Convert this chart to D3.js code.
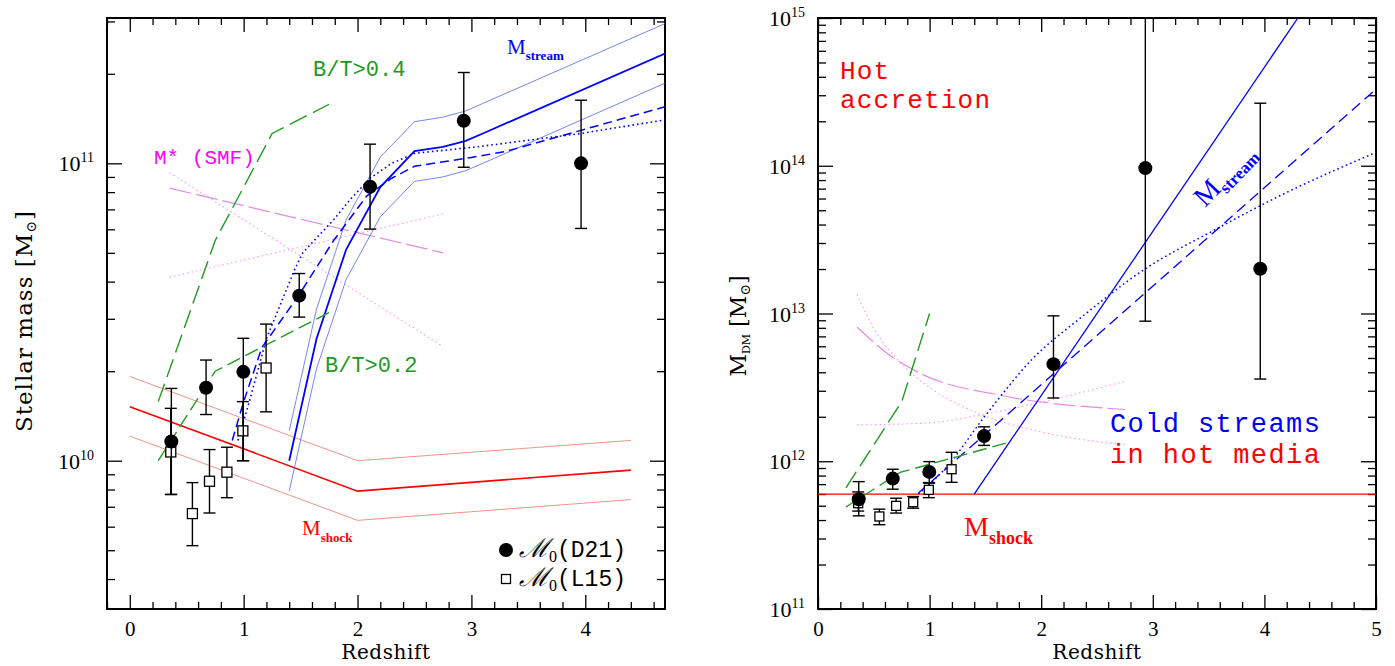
<!DOCTYPE html>
<html>
<head>
<meta charset="utf-8">
<script src="https://cdn.jsdelivr.net/npm/d3@7"></script>
<style>
  body { margin: 0; background: #fff; }
  svg { display: block; }
</style>
</head>
<body>
<div id="chart"></div>
<script>
// ---------- data ----------
// redshifts of the two galaxy samples
const zD21 = [0.365, 0.67, 0.997, 1.488, 2.11, 2.933, 3.963];
const zL15 = [0.36, 0.55, 0.70, 0.853, 0.993, 1.197];

// left panel: stellar mass
const smD21   = [1.16e10, 1.76e10, 1.99e10, 3.59e10, 8.34e10, 1.39e11, 1.0e11];
const smD21Lo = [7.7e9, 1.43e10, 1.0e10, 3.04e10, 6.01e10, 9.7e10, 6.04e10];
const smD21Hi = [1.75e10, 2.18e10, 2.58e10, 4.26e10, 1.16e11, 2.02e11, 1.63e11];
const smL15   = [1.07e10, 6.64e9, 8.53e9, 9.15e9, 1.26e10, 2.05e10];
const smL15Lo = [7.7e9, 5.18e9, 6.67e9, 7.51e9, 1.0e10, 1.46e10];
const smL15Hi = [1.5e10, 8.44e9, 1.09e10, 1.11e10, 1.58e10, 2.88e10];

const zShockL  = [0, 2, 4.4];
const shockMid = [1.52e10, 7.9e9, 9.3e9];
const shockHi  = [1.92e10, 1.0e10, 1.17e10];
const shockLo  = [1.21e10, 6.3e9, 7.4e9];

const zStreamL  = [1.40, 1.64, 1.90, 2.20, 2.50, 2.75, 2.95, 3.10, 4.70];
const streamMid = [1.0e10, 2.57e10, 5.13e10, 8.32e10, 1.10e11, 1.135e11, 1.19e11, 1.26e11, 2.34e11];
const streamHi  = [1.26e10, 3.24e10, 6.46e10, 1.05e11, 1.38e11, 1.43e11, 1.50e11, 1.59e11, 2.95e11];
const streamLo  = [7.9e9, 2.04e10, 4.07e10, 6.61e10, 8.7e10, 9.0e10, 9.45e10, 1.0e11, 1.86e11];
const zStreamDashL = [0.90, 1.00, 1.16, 1.49, 1.79, 2.08, 2.30, 2.50, 3.00, 3.30, 4.70];
const streamDashL  = [1.17e10, 1.58e10, 2.40e10, 3.63e10, 5.50e10, 7.76e10, 8.91e10, 9.77e10, 1.047e11, 1.096e11, 1.55e11];
const zStreamDotL  = [0.95, 1.05, 1.20, 1.445, 1.52, 1.79, 1.94, 2.11, 2.30, 2.50, 3.08, 3.96, 4.70];
const streamDotL   = [1.17e10, 1.58e10, 2.57e10, 4.37e10, 5.01e10, 6.46e10, 7.59e10, 8.91e10, 1.0e11, 1.08e11, 1.14e11, 1.26e11, 1.40e11];

const zBT04 = [0.25, 0.75, 1.25, 1.75];
const bt04  = [1.58e10, 5.5e10, 1.26e11, 1.58e11];
const zBT02 = [0.25, 0.75, 1.75];
const bt02  = [1.0e10, 2.0e10, 3.15e10];

const zSmf    = [0.35, 2.75];
const smfStar = [8.25e10, 5.0e10];
const smfDotA = [9.3e10, 2.42e10];
const smfDotB = [4.14e10, 6.76e10];

// right panel: dark matter halo mass
const mdmD21   = [5.53e11, 7.63e11, 8.47e11, 1.48e12, 4.54e12, 9.64e13, 2.01e13];
const mdmD21Lo = [4.27e11, 6.47e11, 7.1e11, 1.28e12, 2.68e12, 8.87e12, 3.6e12];
const mdmD21Hi = [7.28e11, 8.83e11, 9.94e11, 1.71e12, 9.64e12, 2e15, 2.65e14];
const mdmL15   = [5.2e11, 4.23e11, 4.99e11, 5.28e11, 6.4e11, 8.83e11];
const mdmL15Lo = [4.6e11, 3.72e11, 4.46e11, 4.81e11, 5.67e11, 7.2e11];
const mdmL15Hi = [6.2e11, 4.74e11, 5.62e11, 5.77e11, 7.17e11, 1.15e12];

const zShockR = [0, 5];
const shockR  = [6e11, 6e11];
const zStreamR = [1.4, 4.3];
const streamR  = [6e11, 1.0e15];
const zStreamDashR = [0.9, 5.0];
const streamDashR  = [6.1e11, 3.3e14];
const zStreamDotR  = [0.9, 1.15, 1.5, 1.93, 2.35, 2.93, 3.54, 4.2, 5.0];
const streamDotR   = [6.0e11, 9.1e11, 2.04e12, 5.0e12, 9.3e12, 2.0e13, 3.63e13, 6.6e13, 1.23e14];

const zBT04R = [0.25, 0.75, 1.0];
const bt04R  = [6.6e11, 2.53e12, 1.0e13];
const zBT02R = [0.25, 0.735, 1.705];
const bt02R  = [4.9e11, 8.4e11, 1.34e12];

const zSmfR    = [0.35, 0.645, 0.96, 1.63, 2.75];
const smfStarR = [8.1e12, 5.2e12, 3.8e12, 2.8e12, 2.24e12];
const zSmfDotAR = [0.35, 0.5, 0.7, 1.0, 1.45, 2.0, 2.75];
const smfDotAR  = [1.35e13, 7.9e12, 5.0e12, 3.16e12, 2.09e12, 1.58e12, 1.29e12];
const zSmfDotBR = [0.35, 1.0, 1.5, 2.0, 2.75];
const smfDotBR  = [1.76e12, 1.82e12, 2.09e12, 2.51e12, 3.47e12];

// ---------- drawing ----------
const W = 1395, H = 666;
const TOP = 18, BOTTOM = 609;
const MONO = "'Liberation Mono', monospace";
const SERIF = "'DejaVu Serif', serif";
const LSERIF = "'Liberation Serif', serif";

const svg = d3.select("#chart").append("svg").attr("width", W).attr("height", H);

function panel(id, left, right, xDomain, yDomain, xMax) {
    const x = d3.scaleLinear().domain(xDomain).range([left, right]);
    const y = d3.scaleLog().domain(yDomain).range([BOTTOM, TOP]);
    const g = svg.append("g");

    g.append("clipPath").attr("id", id).append("rect")
        .attr("x", left).attr("y", TOP).attr("width", right - left).attr("height", BOTTOM - TOP);

    // ticks
    const steps = d3.range(Math.round(xDomain[0] * 5), Math.round(xDomain[1] * 5) + 1).map(d => d / 5)
        .filter(d => d >= xDomain[0] - 1e-6 && d <= xDomain[1] + 1e-6);
    const xMajor = steps.filter(d => Math.abs(d - Math.round(d)) < 1e-6 && d >= 0 && d <= xMax);
    const xMinor = steps.filter(d => Math.abs(d - Math.round(d)) > 1e-6);
    const lo = Math.floor(Math.log10(yDomain[0])), hi = Math.ceil(Math.log10(yDomain[1]));
    const yMajor = d3.range(lo, hi + 1).map(k => Math.pow(10, k)).filter(v => v >= yDomain[0] * 0.999 && v <= yDomain[1] * 1.001);
    const yMinor = [];
    d3.range(lo, hi + 1).forEach(k => {
        for (let m = 2; m <= 9; m++) {
            const v = m * Math.pow(10, k);
            if (v > yDomain[0] && v < yDomain[1]) yMinor.push(v);
        }
    });

    const clean = s => s.call(a => a.select(".domain").remove())
        .call(a => a.selectAll("line").attr("stroke", "#000").attr("stroke-width", 1.3));

    g.append("g").attr("transform", `translate(0,${BOTTOM})`)
        .call(d3.axisBottom(x).tickValues(xMajor).tickSizeInner(-14).tickSizeOuter(0).tickPadding(12).tickFormat(d3.format("d")))
        .call(clean)
        .call(a => a.selectAll("text").attr("font-family", LSERIF).attr("font-size", 21).attr("fill", "#000"));
    g.append("g").attr("transform", `translate(0,${BOTTOM})`)
        .call(d3.axisBottom(x).tickValues(xMinor).tickSizeInner(-7).tickSizeOuter(0).tickFormat("")).call(clean);
    g.append("g").attr("transform", `translate(0,${TOP})`)
        .call(d3.axisTop(x).tickValues(xMajor).tickSizeInner(-14).tickSizeOuter(0).tickFormat("")).call(clean);
    g.append("g").attr("transform", `translate(0,${TOP})`)
        .call(d3.axisTop(x).tickValues(xMinor).tickSizeInner(-7).tickSizeOuter(0).tickFormat("")).call(clean);

    g.append("g").attr("transform", `translate(${left},0)`)
        .call(d3.axisLeft(y).tickValues(yMajor).tickSizeInner(-15).tickSizeOuter(0).tickFormat("")).call(clean);
    g.append("g").attr("transform", `translate(${left},0)`)
        .call(d3.axisLeft(y).tickValues(yMinor).tickSizeInner(-8).tickSizeOuter(0).tickFormat("")).call(clean);
    g.append("g").attr("transform", `translate(${right},0)`)
        .call(d3.axisRight(y).tickValues(yMajor).tickSizeInner(-15).tickSizeOuter(0).tickFormat("")).call(clean);
    g.append("g").attr("transform", `translate(${right},0)`)
        .call(d3.axisRight(y).tickValues(yMinor).tickSizeInner(-8).tickSizeOuter(0).tickFormat("")).call(clean);

    // y tick labels 10^k
    yMajor.forEach(v => {
        const t = g.append("text").attr("x", left - 13).attr("y", y(v) + 8)
            .attr("text-anchor", "end").attr("font-family", LSERIF).attr("font-size", 22);
        t.append("tspan").text("10");
        t.append("tspan").attr("dy", -9).attr("font-size", 14).text(Math.round(Math.log10(v)));
    });

    // frame
    g.append("rect").attr("x", left).attr("y", TOP).attr("width", right - left).attr("height", BOTTOM - TOP)
        .attr("fill", "none").attr("stroke", "#000").attr("stroke-width", 2);

    const plot = g.append("g").attr("clip-path", `url(#${id})`);
    return { x, y, g, plot };
}

function drawLine(p, zs, ms, color, width, dash, smooth) {
    const line = d3.line().x(d => p.x(d[0])).y(d => p.y(d[1]));
    if (smooth) line.curve(d3.curveMonotoneX);
    p.plot.append("path").datum(d3.zip(zs, ms))
        .attr("d", line).attr("fill", "none")
        .attr("stroke", color).attr("stroke-width", width)
        .attr("stroke-dasharray", dash || null);
}

function drawPoints(p, zs, ms, los, his, kind, size) {
    const data = d3.zip(zs, ms, los, his);
    const eb = p.plot.append("g").attr("stroke", "#000").attr("stroke-width", 1.4);
    data.forEach(d => {
        const cx = p.x(d[0]);
        eb.append("line").attr("x1", cx).attr("x2", cx).attr("y1", p.y(d[2])).attr("y2", p.y(d[3]));
        eb.append("line").attr("x1", cx - 6).attr("x2", cx + 6).attr("y1", p.y(d[2])).attr("y2", p.y(d[2]));
        eb.append("line").attr("x1", cx - 6).attr("x2", cx + 6).attr("y1", p.y(d[3])).attr("y2", p.y(d[3]));
    });
    if (kind === "circle") {
        p.plot.append("g").selectAll("circle").data(data).join("circle")
            .attr("cx", d => p.x(d[0])).attr("cy", d => p.y(d[1])).attr("r", size).attr("fill", "#000");
    } else {
        p.plot.append("g").selectAll("rect").data(data).join("rect")
            .attr("x", d => p.x(d[0]) - size / 2).attr("y", d => p.y(d[1]) - size / 2)
            .attr("width", size).attr("height", size)
            .attr("fill", "#fff").attr("stroke", "#000").attr("stroke-width", 1.3);
    }
}

function label(g, x, y, parts, opts) {
    const t = g.append("text").attr("x", x).attr("y", y).attr("fill", opts.color)
        .attr("font-family", opts.family || MONO).attr("font-size", opts.size);
    if (opts.transform) t.attr("transform", opts.transform);
    if (opts.anchor) t.attr("text-anchor", opts.anchor);
    if (opts.spacing) t.attr("letter-spacing", opts.spacing);
    parts.forEach(pt => {
        const s = t.append("tspan").text(pt.text);
        if (pt.dy) s.attr("dy", pt.dy);
        if (pt.size) s.attr("font-size", pt.size);
        if (pt.family) s.attr("font-family", pt.family);
        if (pt.weight) s.attr("font-weight", pt.weight);
        if (pt.style) s.attr("font-style", pt.style);
    });
    return t;
}

const GREEN = "#229a22", BLUE = "#0000ff", RED = "#ff0000";

// ===== left panel =====
const L = panel("clipL", 107, 665, [-0.2, 4.7], [3.172e9, 3.081e11], 4);

drawLine(L, zSmf, smfDotA, "#f59cf5", 1.2, "1.5,3");
drawLine(L, zSmf, smfDotB, "#f59cf5", 1.2, "1.5,3");
drawLine(L, zSmf, smfStar, "#e58ae8", 1.2, "22,5");
drawLine(L, zShockL, shockHi, "#f08878", 0.9);
drawLine(L, zShockL, shockLo, "#f08878", 0.9);
drawLine(L, zShockL, shockMid, RED, 1.6);
drawLine(L, zStreamL, streamHi, "#5068f0", 0.8);
drawLine(L, zStreamL, streamLo, "#5068f0", 0.8);
drawLine(L, zStreamL, streamMid, BLUE, 1.8);
drawLine(L, zStreamDashL, streamDashL, BLUE, 1.5, "9,5");
drawLine(L, zStreamDotL, streamDotL, BLUE, 1.6, "1.6,3");
drawLine(L, zBT04, bt04, GREEN, 1.4, "19,7");
drawLine(L, zBT02, bt02, GREEN, 1.4, "14,6");

drawPoints(L, zL15, smL15, smL15Lo, smL15Hi, "square", 10);
drawPoints(L, zD21, smD21, smD21Lo, smD21Hi, "circle", 7);

label(L.g, 313, 76, [{ text: "B/T>0.4" }], { color: GREEN, size: 22 });
label(L.g, 325, 372, [{ text: "B/T>0.2" }], { color: GREEN, size: 22 });
label(L.g, 154, 164, [{ text: "M* (SMF)" }], { color: "#ff00ff", size: 21 });
label(L.g, 507, 54, [{ text: "M" }, { text: "stream", dy: 6, size: 13, weight: "bold" }],
    { color: BLUE, size: 21, family: LSERIF });
label(L.g, 302, 535, [{ text: "M" }, { text: "shock", dy: 7, size: 13, weight: "bold" }],
    { color: RED, size: 21, family: LSERIF });

// legend
L.g.append("circle").attr("cx", 506).attr("cy", 550).attr("r", 7).attr("fill", "#000");
L.g.append("rect").attr("x", 501.5).attr("y", 574.5).attr("width", 9).attr("height", 9)
    .attr("fill", "#fff").attr("stroke", "#000").attr("stroke-width", 1.3);
label(L.g, 519, 557, [{ text: "ℳ", family: SERIF, size: 26, style: "italic" }, { text: "0", dy: 5, size: 16, family: LSERIF },
    { text: "(D21)", dy: -5 }], { color: "#000", size: 23 });
label(L.g, 519, 586, [{ text: "ℳ", family: SERIF, size: 26, style: "italic" }, { text: "0", dy: 5, size: 16, family: LSERIF },
    { text: "(L15)", dy: -5 }], { color: "#000", size: 23 });

// axis titles
label(L.g, 386, 659, [{ text: "Redshift" }], { color: "#000", size: 20, family: SERIF, anchor: "middle", spacing: 0.6 });
label(L.g, 0, 0, [{ text: "Stellar mass [M" }, { text: "⊙", dy: 4, size: 14 }, { text: "]", dy: -4 }],
    { color: "#000", size: 23, family: SERIF, anchor: "middle", spacing: 1.0, transform: "translate(32,321) rotate(-90)" });

// ===== right panel =====
const R = panel("clipR", 818, 1376, [0, 5], [1e11, 1e15], 5);

drawLine(R, zSmfDotAR, smfDotAR, "#f59cf5", 1.2, "1.5,3", true);
drawLine(R, zSmfDotBR, smfDotBR, "#f59cf5", 1.2, "1.5,3", true);
drawLine(R, zSmfR, smfStarR, "#e58ae8", 1.2, "22,5", true);
drawLine(R, zShockR, shockR, RED, 1.3);
drawLine(R, zStreamR, streamR, BLUE, 1.3);
drawLine(R, zStreamDashR, streamDashR, BLUE, 1.3, "11,6");
drawLine(R, zStreamDotR, streamDotR, BLUE, 1.5, "1.6,3", true);
drawLine(R, zBT04R, bt04R, GREEN, 1.4, "19,7");
drawLine(R, zBT02R, bt02R, GREEN, 1.4, "14,6");

drawPoints(R, zL15, mdmL15, mdmL15Lo, mdmL15Hi, "square", 9);
drawPoints(R, zD21, mdmD21, mdmD21Lo, mdmD21Hi, "circle", 7);

label(R.g, 840, 79, [{ text: "Hot" }], { color: RED, size: 26, spacing: 1.2 });
label(R.g, 840, 108, [{ text: "accretion" }], { color: RED, size: 26, spacing: 1.2 });
label(R.g, 1110, 432, [{ text: "Cold streams" }], { color: BLUE, size: 27, spacing: 1.4 });
label(R.g, 1110, 463, [{ text: "in hot media" }], { color: RED, size: 27, spacing: 1.4 });
label(R.g, 964, 536, [{ text: "M" }, { text: "shock", dy: 8, size: 18, weight: "bold" }],
    { color: RED, size: 28, family: LSERIF });
label(R.g, 0, 0, [{ text: "M" }, { text: "stream", dy: 6, size: 17, weight: "bold" }],
    { color: BLUE, size: 28, family: LSERIF, transform: "translate(1205,208) rotate(-46)" });

label(R.g, 1097, 659, [{ text: "Redshift" }], { color: "#000", size: 20, family: SERIF, anchor: "middle", spacing: 0.6 });
label(R.g, 0, 0, [{ text: "M", size: 22 }, { text: "DM", dy: 4, size: 11 }, { text: " [M", dy: -4 }, { text: "⊙", dy: 4, size: 14 }, { text: "]", dy: -4 }],
    { color: "#000", size: 22, family: SERIF, anchor: "middle", transform: "translate(746,326) rotate(-90)" });
</script>
</body>
</html>
